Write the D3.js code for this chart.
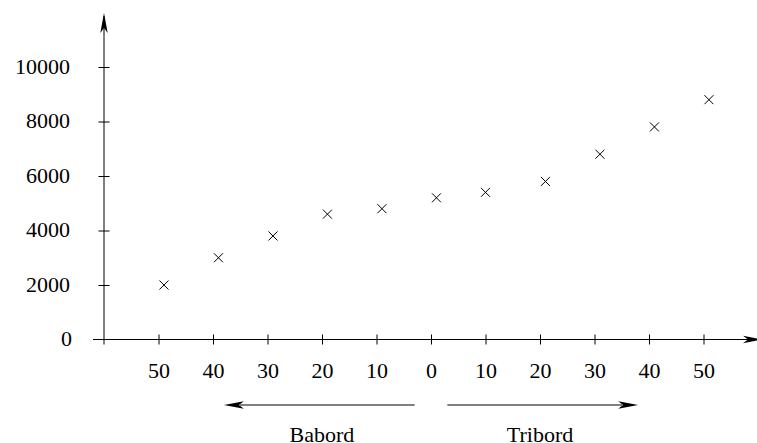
<!DOCTYPE html>
<html>
<head>
<meta charset="utf-8">
<script src="https://cdn.jsdelivr.net/npm/d3@7/dist/d3.min.js"></script>
<style>
  html, body { margin: 0; padding: 0; background: #fff; }
  svg { display: block; }
  text { font-family: "Liberation Serif", "Times New Roman", serif; font-size: 22px; fill: #000; }
</style>
</head>
<body>
<svg id="chart" width="757" height="443"></svg>
<script>
// Data: signed angle (negative = Babord, positive = Tribord) and value
const angles = [-49, -39, -29, -19, -9, 1, 10, 21, 31, 41, 51];
const values = [2000, 3000, 3800, 4600, 4800, 5200, 5400, 5800, 6800, 7800, 8800];
const xTicks = [-50, -40, -30, -20, -10, 0, 10, 20, 30, 40, 50];
const yTicks = [0, 2000, 4000, 6000, 8000, 10000];
const sideLabels = ["Babord", "Tribord"];

const svg = d3.select("#chart");
const x = d3.scaleLinear().domain([-60, 50]).range([104, 703.5]);
const y = d3.scaleLinear().domain([0, 10000]).range([339.5, 67]);

const ink = "#000";

function arrowHead(g, tx, ty, angleDeg) {
  g.append("path")
    .attr("d", "M0,0 L-20,-3.7 L-15,0 L-20,3.7 Z")
    .attr("transform", `translate(${tx},${ty}) rotate(${angleDeg})`)
    .attr("fill", ink)
    .attr("stroke", "none");
}

// Axes lines
const axisG = svg.append("g");
const x0 = x(-60), y0 = y(0);
axisG.append("line").attr("x1", x0 - 11).attr("x2", 760).attr("y1", y0).attr("y2", y0)
  .attr("stroke", ink).attr("stroke-width", 1);
arrowHead(axisG, 763, y0, 0);
axisG.append("line").attr("x1", x0).attr("x2", x0).attr("y1", y0 + 5).attr("y2", 16)
  .attr("stroke", ink).attr("stroke-width", 1);
arrowHead(axisG, x0, 13, -90);

// Y axis ticks and labels
const yAxis = d3.axisLeft(y).tickValues(yTicks).tickSize(0).tickFormat(d => d);
const yg = svg.append("g").attr("transform", `translate(${x0},0)`).call(yAxis);
yg.select(".domain").remove();
yg.selectAll(".tick line").remove();
yg.selectAll(".tick").append("line")
  .attr("x1", -5.5).attr("x2", 5.5).attr("stroke", ink).attr("stroke-width", 1);
yg.selectAll(".tick text")
  .attr("x", 70 - x0).attr("dy", "6px")
  .attr("text-anchor", "end")
  .style("font-family", '"Liberation Serif", "Times New Roman", serif')
  .style("font-size", "22px").attr("fill", ink);
yg.selectAll(".tick").filter(d => d === 0).remove();
// zero label without tick mark duplication
svg.append("text").attr("x", 72).attr("y", y0 + 6).attr("text-anchor", "end").text("0");

// X axis ticks and labels
const xAxis = d3.axisBottom(x).tickValues(xTicks).tickSize(0).tickFormat(d => Math.abs(d));
const xg = svg.append("g").attr("transform", `translate(0,${y0})`).call(xAxis);
xg.select(".domain").remove();
xg.selectAll(".tick line").remove();
xg.selectAll(".tick").append("line")
  .attr("y1", -5).attr("y2", 5).attr("stroke", ink).attr("stroke-width", 1);
xg.selectAll(".tick text")
  .attr("y", 0).attr("dy", "0").attr("transform", "translate(0,38.5)")
  .style("font-family", '"Liberation Serif", "Times New Roman", serif')
  .style("font-size", "22px").attr("fill", ink);

// Data markers (x crosses)
const pts = angles.map((a, i) => ({ a, v: values[i] }));
const s = 4.5;
svg.append("g").selectAll("path").data(pts).join("path")
  .attr("d", d => {
    const cx = x(d.a), cy = y(d.v);
    return `M${cx - s},${cy - s}L${cx + s},${cy + s}M${cx - s},${cy + s}L${cx + s},${cy - s}`;
  })
  .attr("stroke", ink).attr("stroke-width", 1).attr("fill", "none");

// Direction arrows
const arrY = 405;
const dirG = svg.append("g");
dirG.append("line").attr("x1", x(-3)).attr("x2", x(-38) + 16).attr("y1", arrY).attr("y2", arrY)
  .attr("stroke", ink).attr("stroke-width", 1);
arrowHead(dirG, x(-38), arrY, 180);
dirG.append("line").attr("x1", x(3)).attr("x2", x(38) - 16).attr("y1", arrY).attr("y2", arrY)
  .attr("stroke", ink).attr("stroke-width", 1);
arrowHead(dirG, x(38), arrY, 0);

svg.append("g").selectAll("text").data(sideLabels).join("text")
  .attr("x", (d, i) => x(i === 0 ? -20 : 20))
  .attr("y", 442)
  .attr("text-anchor", "middle")
  .text(d => d);
</script>
</body>
</html>
